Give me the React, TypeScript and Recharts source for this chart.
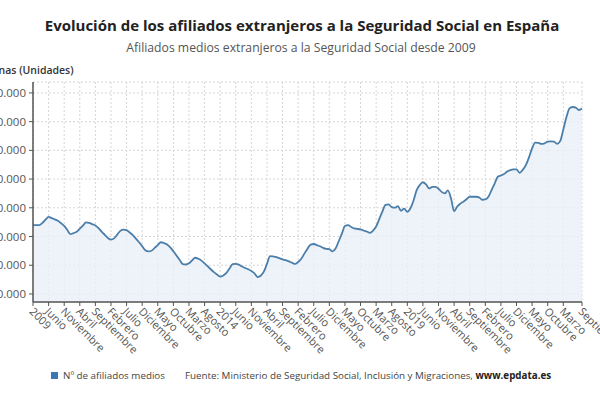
import React from "react";
import { AreaChart, Area, XAxis, YAxis, CartesianGrid } from "recharts";

const MONTHS = ["Enero", "Febrero", "Marzo", "Abril", "Mayo", "Junio", "Julio", "Agosto", "Septiembre", "Octubre", "Noviembre", "Diciembre"];
const START_YEAR = 2009;

// Nº de afiliados medios extranjeros (miles), enero 2009 - septiembre 2023
const affiliatesThousands = [
  1880, 1880, 1880, 1895, 1917, 1937, 1928, 1919, 1910, 1892, 1874, 1845,
  1816, 1824, 1833, 1855, 1876, 1899, 1895, 1886, 1876, 1858, 1834, 1812,
  1790, 1778, 1787, 1813, 1839, 1848, 1845, 1828, 1810, 1785, 1760, 1733,
  1705, 1697, 1701, 1721, 1740, 1760, 1755, 1745, 1724, 1697, 1668, 1638,
  1608, 1605, 1613, 1634, 1652, 1645, 1632, 1613, 1593, 1572, 1552, 1535,
  1521, 1529, 1547, 1577, 1607, 1610, 1604, 1591, 1581, 1572, 1560, 1544,
  1518, 1527, 1555, 1609, 1664, 1661, 1657, 1649, 1641, 1635, 1627, 1618,
  1609, 1623, 1645, 1681, 1715, 1744, 1748, 1740, 1732, 1721, 1714, 1712,
  1696, 1716, 1767, 1819, 1873, 1880, 1866, 1856, 1853, 1849, 1842, 1835,
  1826, 1841, 1870, 1921, 1973, 2020, 2024, 2005, 2001, 2011, 1979, 1994,
  1972, 1997, 2051, 2123, 2159, 2178, 2163, 2135, 2145, 2145, 2133, 2111,
  2100, 2121, 2066, 1976, 2009, 2029, 2043, 2060, 2077, 2077, 2077, 2073,
  2056, 2059, 2077, 2123, 2169, 2216, 2225, 2235, 2252, 2262, 2267, 2267,
  2244, 2264, 2297, 2351, 2414, 2454, 2452, 2445, 2449, 2460, 2463, 2461,
  2445, 2464, 2545, 2630, 2692, 2702, 2698, 2681, 2691,
];

const yTicks = [1400000, 1600000, 1800000, 2000000, 2200000, 2400000, 2600000, 2800000];

const data = affiliatesThousands.map((v, i) => {
  const m = i % 12;
  const year = START_YEAR + Math.floor(i / 12);
  return { key: `${year}-${m + 1}`, label: m === 0 ? String(year) : MONTHS[m], value: v * 1000 };
});

const labelByKey: Record<string, string> = {};
data.forEach((d) => (labelByKey[d.key] = d.label));

// every fifth month plus the last month
const xTicks = data.filter((_, i) => i % 5 === 0 && i < data.length - 3).map((d) => d.key).concat(data[data.length - 1].key);

const fmt = (n: number) => String(n).replace(/\B(?=(\d{3})+(?!\d))/g, ".");

const FONT = "'Open Sans', 'Noto Sans', sans-serif";

const XTick = (props: any) => {
  const { x, y, payload } = props;
  return (
    <g transform={`translate(${x},${y})`}>
      <text x={0} y={0} dy="0.55em" transform="rotate(45)" textAnchor="start" fontSize={11} fill="#555" fontFamily={FONT}>
        {labelByKey[payload.value]}
      </text>
    </g>
  );
};

export default function App() {
  return (
    <div style={{ position: "absolute", left: 0, top: 0, width: 600, height: 400, overflow: "hidden", background: "#fff", fontFamily: FONT }}>
      <div style={{ position: "absolute", left: 0, width: 604, top: 15, textAlign: "center", fontSize: 15, fontWeight: 700, color: "#222" }}>
        Evolución de los afiliados extranjeros a la Seguridad Social en España
      </div>
      <div style={{ position: "absolute", left: 0, width: 602, top: 39, textAlign: "center", fontSize: 12.2, color: "#555" }}>
        Afiliados medios extranjeros a la Seguridad Social desde 2009
      </div>
      <div style={{ position: "absolute", left: -30, top: 63, fontSize: 10.5, fontWeight: 600, color: "#333", whiteSpace: "nowrap" }}>
        Personas (Unidades)
      </div>
      <div style={{ position: "absolute", left: -30, top: 0 }}>
        <AreaChart width={630} height={400} data={data} margin={{ top: 82, right: 18, bottom: 0, left: 0 }}>
          <CartesianGrid stroke="#d6d6d6" strokeDasharray="2 2" />
          <XAxis
            dataKey="key"
            ticks={xTicks}
            interval={0}
            tick={<XTick />}
            tickSize={4}
            tickMargin={2}
            height={98}
            stroke="#555"
            axisLine={{ stroke: "#555", strokeWidth: 1.5 }}
            tickLine={{ stroke: "#555" }}
          />
          <YAxis
            type="number"
            domain={[1344000, 2876000]}
            ticks={yTicks}
            tickFormatter={fmt}
            width={63}
            tickSize={4}
            tickMargin={3}
            axisLine={{ stroke: "#555", strokeWidth: 1.5 }}
            tickLine={{ stroke: "#555" }}
            tick={{ fontSize: 11.5, fill: "#555", fontFamily: FONT }}
          />
          <Area
            type="monotone"
            dataKey="value"
            stroke="#4b7ea9"
            strokeWidth={1.8}
            fill="#e9f0f8"
            fillOpacity={0.8}
            isAnimationActive={false}
            dot={false}
            activeDot={false}
          />
        </AreaChart>
      </div>
      <div style={{ position: "absolute", top: 369, left: 51, fontSize: 9.8, color: "#444", whiteSpace: "nowrap", display: "flex", alignItems: "center" }}>
        <span style={{ display: "inline-block", width: 7, height: 7, background: "#3a78b5", marginRight: 5 }} />
        <span>Nº de afiliados medios</span>
        <span style={{ marginLeft: 20 }}>
          Fuente: Ministerio de Seguridad Social, Inclusión y Migraciones, <b style={{ color: "#222" }}>www.epdata.es</b>
        </span>
      </div>
    </div>
  );
}
